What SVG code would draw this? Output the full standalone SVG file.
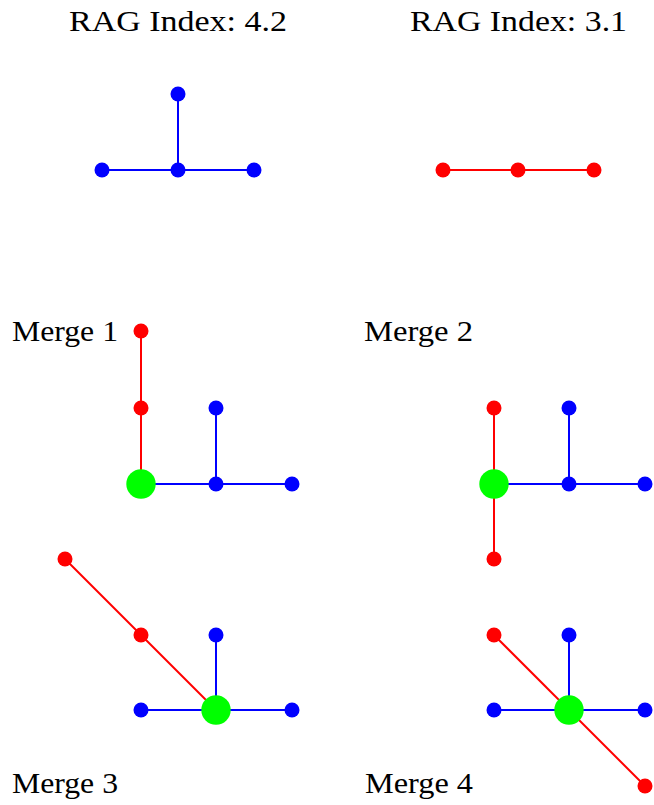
<svg xmlns="http://www.w3.org/2000/svg" width="654" height="805" viewBox="0 0 654 805">
<style>
text{font-family:"Liberation Serif","DejaVu Serif",serif;font-size:30px;fill:#000}
.b{stroke:#0000ff;stroke-width:2;fill:none}
.r{stroke:#ff0000;stroke-width:2;fill:none}
.nb{fill:#0000ff}
.nr{fill:#ff0000}
.ng{fill:#00ff00}
</style>
<rect width="654" height="805" fill="#fff"/>
<g id="labels">
<text x="69" y="31" textLength="218" lengthAdjust="spacingAndGlyphs">RAG Index: 4.2</text>
<text x="410" y="31" textLength="217" lengthAdjust="spacingAndGlyphs">RAG Index: 3.1</text>
<text x="12" y="341" textLength="106" lengthAdjust="spacingAndGlyphs">Merge 1</text>
<text x="364" y="341" textLength="109" lengthAdjust="spacingAndGlyphs">Merge 2</text>
<text x="12" y="793" textLength="106" lengthAdjust="spacingAndGlyphs">Merge 3</text>
<text x="365" y="793" textLength="108" lengthAdjust="spacingAndGlyphs">Merge 4</text>
</g>
<g id="connectors">
<!-- top left -->
<line class="b" x1="102" y1="170" x2="254" y2="170"/>
<line class="b" x1="178" y1="94" x2="178" y2="170"/>
<!-- top right -->
<line class="r" x1="443" y1="170" x2="594" y2="170"/>
<!-- merge 1 -->
<line class="r" x1="141" y1="331" x2="141" y2="484"/>
<line class="b" x1="141" y1="484" x2="292" y2="484"/>
<line class="b" x1="216" y1="408" x2="216" y2="484"/>
<!-- merge 2 -->
<line class="r" x1="494" y1="408" x2="494" y2="559"/>
<line class="b" x1="494" y1="484" x2="645" y2="484"/>
<line class="b" x1="569" y1="408" x2="569" y2="484"/>
<!-- merge 3 -->
<line class="r" x1="65" y1="559" x2="216" y2="710"/>
<line class="b" x1="141" y1="710" x2="292" y2="710"/>
<line class="b" x1="216" y1="635" x2="216" y2="710"/>
<!-- merge 4 -->
<line class="r" x1="494" y1="635" x2="645" y2="786"/>
<line class="b" x1="494" y1="710" x2="645" y2="710"/>
<line class="b" x1="569" y1="635" x2="569" y2="710"/>
</g>
<g id="g1">
<circle id="g1n1" class="nb" cx="102" cy="170" r="7.5"/>
<circle id="g1n2" class="nb" cx="178" cy="170" r="7.5"/>
<circle id="g1n3" class="nb" cx="254" cy="170" r="7.5"/>
<circle id="g1n4" class="nb" cx="178" cy="94" r="7.5"/>
</g>
<g id="g2">
<circle id="g2n1" class="nr" cx="443" cy="170" r="7.5"/>
<circle id="g2n2" class="nr" cx="518" cy="170" r="7.5"/>
<circle id="g2n3" class="nr" cx="594" cy="170" r="7.5"/>
</g>
<g id="m1">
<circle id="m1r1" class="nr" cx="141" cy="331" r="7.5"/>
<circle id="m1r2" class="nr" cx="141" cy="408" r="7.5"/>
<circle id="m1b1" class="nb" cx="216" cy="408" r="7.5"/>
<circle id="m1b2" class="nb" cx="216" cy="484" r="7.5"/>
<circle id="m1b3" class="nb" cx="292" cy="484" r="7.5"/>
<circle id="m1g" class="ng" cx="141" cy="484" r="14.7"/>
</g>
<g id="m2">
<circle id="m2r1" class="nr" cx="494" cy="408" r="7.5"/>
<circle id="m2r2" class="nr" cx="494" cy="559" r="7.5"/>
<circle id="m2b1" class="nb" cx="569" cy="408" r="7.5"/>
<circle id="m2b2" class="nb" cx="569" cy="484" r="7.5"/>
<circle id="m2b3" class="nb" cx="645" cy="484" r="7.5"/>
<circle id="m2g" class="ng" cx="494" cy="484" r="14.7"/>
</g>
<g id="m3">
<circle id="m3r1" class="nr" cx="65" cy="559" r="7.5"/>
<circle id="m3r2" class="nr" cx="141" cy="635" r="7.5"/>
<circle id="m3b1" class="nb" cx="141" cy="710" r="7.5"/>
<circle id="m3b2" class="nb" cx="216" cy="635" r="7.5"/>
<circle id="m3b3" class="nb" cx="292" cy="710" r="7.5"/>
<circle id="m3g" class="ng" cx="216" cy="710" r="14.7"/>
</g>
<g id="m4">
<circle id="m4r1" class="nr" cx="494" cy="635" r="7.5"/>
<circle id="m4r2" class="nr" cx="645" cy="786" r="7.5"/>
<circle id="m4b1" class="nb" cx="494" cy="710" r="7.5"/>
<circle id="m4b2" class="nb" cx="569" cy="635" r="7.5"/>
<circle id="m4b3" class="nb" cx="645" cy="710" r="7.5"/>
<circle id="m4g" class="ng" cx="569" cy="710" r="14.7"/>
</g>
</svg>
